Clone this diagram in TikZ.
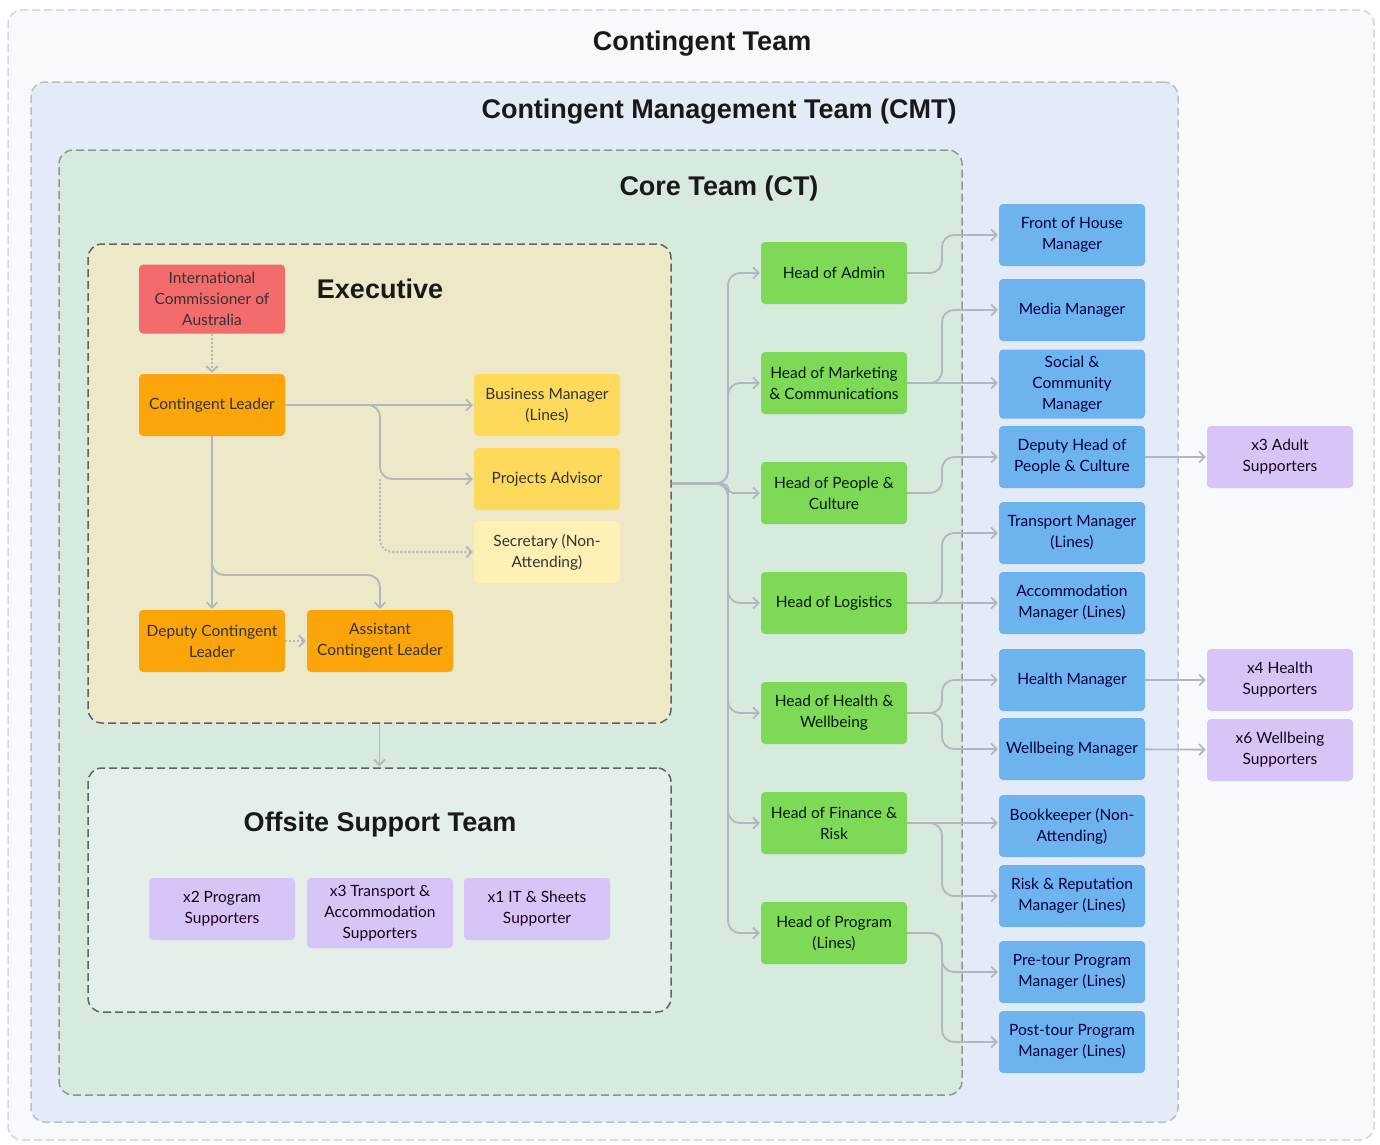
\documentclass[tikz,border=0pt]{standalone}
\usepackage{fontspec}
\setmainfont{Lato}
\newfontfamily\titlefont{Liberation Sans}
\usetikzlibrary{arrows.meta, positioning}

\definecolor{ctfill}{HTML}{F8F9FC}
\definecolor{ctline}{HTML}{D3D6DB}
\definecolor{cmtfill}{HTML}{E3EBF8}
\definecolor{cmtline}{HTML}{B9C0C8}
\definecolor{corefill}{HTML}{D6EADE}
\definecolor{coreline}{HTML}{8E9893}
\definecolor{exefill}{HTML}{EDE8C8}
\definecolor{offfill}{HTML}{E4EFEA}
\definecolor{boxline}{HTML}{5E6562}
\definecolor{linkgray}{HTML}{B0B8BE}
\definecolor{icared}{HTML}{F46B6B}
\definecolor{leadorange}{HTML}{FBA50A}
\definecolor{advyellow}{HTML}{FDDA5C}
\definecolor{secyellow}{HTML}{FDF0B4}
\definecolor{headgreen}{HTML}{7ED957}
\definecolor{mgrblue}{HTML}{6DB3EE}
\definecolor{suppurple}{HTML}{D7C5F8}

\begin{document}
\begin{tikzpicture}[x=1pt,y=-1pt,>={Straight Barb[length=5.5pt,width=11pt]},
  shorten >=1pt,node distance=110pt,
  team box/.style={rounded corners=14pt,dash pattern=on 8pt off 4pt,line width=1.5pt,inner sep=0pt},
  title/.style={font=\titlefont\bfseries\fontsize{27}{32}\selectfont,text=black!90},
  role/.style={rounded corners=4pt,minimum width=146pt,minimum height=62pt,inner sep=2pt,
    align=center,font=\fontsize{15.5}{21}\selectfont},
  exec node/.style={role,fill=leadorange,text=black!80},
  head node/.style={role,fill=headgreen,text=green!10!black},
  mgr node/.style={role,fill=mgrblue,text=blue!25!black},
  sup node/.style={role,fill=suppurple,text=violet!20!black},
  link/.style={->,draw=linkgray,line width=1.8pt,rounded corners=12pt},
  dotlink/.style={link,dash pattern=on 2pt off 2pt}]
  \useasboundingbox (0,0) rectangle (1380,1144);

  % nested teams
  \node[team box,fill=ctfill,draw=ctline,minimum width=1366pt,minimum height=1130pt] (ct) at (691,575) {};
  \node[team box,fill=cmtfill,draw=cmtline,minimum width=1147pt,minimum height=1040pt] (cmt) at (604.5,602) {};
  \node[team box,fill=corefill,draw=coreline,minimum width=903pt,minimum height=945pt] (core) at (510.5,622.5) {};
  \node[team box,fill=exefill,draw=boxline,minimum width=583pt,minimum height=479pt] (exe) at (379.5,483.5) {};
  \node[team box,fill=offfill,draw=boxline,minimum width=583pt,minimum height=244pt] (off) at (379.5,890) {};

  \node[title] (tct) at (702,44) {Contingent Team};
  \node[title] (tcmt) at (719,112) {Contingent Management Team (CMT)};
  \node[title] (tcore) at (719,189) {Core Team (CT)};
  \node[title] (texe) at (380,289) {Executive};
  \node[title] (toff) at (380,825) {Offsite Support Team};

  % executive
  \node[exec node,fill=icared,minimum height=69pt] (ica) at (212,299) {International\\Commissioner of\\Australia};
  \node[exec node] (cl) at (212,405) {Contingent Leader};
  \node[exec node,fill=advyellow] (bm) at (547,405) {Business Manager\\(Lines)};
  \node[exec node,fill=advyellow] (pa) at (547,479) {Projects Advisor};
  \node[exec node,fill=secyellow] (sec) at (547,552) {Secretary (Non-\\Attending)};
  \node[exec node] (dep) at (212,641) {Deputy Contingent\\Leader};
  \node[exec node] (asst) at (380,641) {Assistant\\Contingent Leader};

  % offsite
  \node[sup node] (osp) at (222,909) {x2 Program\\Supporters};
  \node[sup node,minimum height=70pt] (ost) at (380,913) {x3 Transport \&\\Accommodation\\Supporters};
  \node[sup node] (osi) at (537,909) {x1 IT \& Sheets\\Supporter};

  % heads
  \node[head node] (hadm) at (834,273) {Head of Admin};
  \node[head node] (hmkt) [below of=hadm] {Head of Marketing\\\& Communications};
  \node[head node] (hppl) [below of=hmkt] {Head of People \&\\Culture};
  \node[head node] (hlog) [below of=hppl] {Head of Logistics};
  \node[head node] (hhw) [below of=hlog] {Head of Health \&\\Wellbeing};
  \node[head node] (hfin) [below of=hhw] {Head of Finance \&\\Risk};
  \node[head node] (hprg) [below of=hfin] {Head of Program\\(Lines)};

  % managers
  \node[mgr node] (foh) at (1072,235) {Front of House\\Manager};
  \node[mgr node] (med) at (1072,310) {Media Manager};
  \node[mgr node,minimum height=69pt] (soc) at (1072,384) {Social \&\\Community\\Manager};
  \node[mgr node] (dhp) at (1072,457) {Deputy Head of\\People \& Culture};
  \node[mgr node] (trm) at (1072,533) {Transport Manager\\(Lines)};
  \node[mgr node] (acm) at (1072,603) {Accommodation\\Manager (Lines)};
  \node[mgr node] (hem) at (1072,680) {Health Manager};
  \node[mgr node] (wbm) at (1072,749) {Wellbeing Manager};
  \node[mgr node] (bkp) at (1072,826) {Bookkeeper (Non-\\Attending)};
  \node[mgr node] (rrm) at (1072,896) {Risk \& Reputation\\Manager (Lines)};
  \node[mgr node] (prm) at (1072,972) {Pre-tour Program\\Manager (Lines)};
  \node[mgr node] (pom) at (1072,1042) {Post-tour Program\\Manager (Lines)};

  % supporters
  \node[sup node] (sad) at (1280,457) {x3 Adult\\Supporters};
  \node[sup node] (shl) at (1280,680) {x4 Health\\Supporters};
  \node[sup node] (swb) at (1280,750) {x6 Wellbeing\\Supporters};

  \coordinate (trunk) at (728,484);
  \coordinate (bend) at (942,0);
  \coordinate (cdrop) at (212,575);

  % executive links
  \draw[dotlink] (ica) -- (cl);
  \draw[link] (cl.east) -- (bm.west);
  \draw[link] (cl.east) -| (asst.north |- pa.west) -- (pa.west);
  \draw[dotlink] (asst.north |- pa.west) |- (sec.west);
  \draw[link] (cl) -- (dep);
  \draw[link] (cl.south) -- (cdrop) -| (asst.north);
  \draw[dotlink] (dep) -- (asst);
  \draw[link] (exe) -- (off);

  % executive to heads
  \foreach \h in {hadm,hmkt,hlog,hhw,hfin,hprg}
    \draw[link] (exe.east) -| (trunk |- \h.west) -- (\h.west);
  \draw[link,rounded corners=5pt] (exe.east) -- (trunk) |- (hppl.west);

  % heads to managers
  \draw[link] (hadm.east) -- (bend |- hadm.east) |- (foh.west);
  \draw[link] (hmkt.east) -- (bend |- hmkt.east) |- (med.west);
  \draw[link] (hmkt.east) -- (hmkt.east -| soc.west);
  \draw[link] (hppl.east) -- (bend |- hppl.east) |- (dhp.west);
  \draw[link] (hlog.east) -- (bend |- hlog.east) |- (trm.west);
  \draw[link] (hlog.east) -- (hlog.east -| acm.west);
  \draw[link] (hhw.east) -- (bend |- hhw.east) |- (hem.west);
  \draw[link] (hhw.east) -- (bend |- hhw.east) |- (wbm.west);
  \draw[link] (hfin.east) -- (hfin.east -| bkp.west);
  \draw[link] (hfin.east) -- (bend |- hfin.east) |- (rrm.west);
  \draw[link] (hprg.east) -- (bend |- hprg.east) |- (prm.west);
  \draw[link] (hprg.east) -- (bend |- hprg.east) |- (pom.west);

  % managers to supporters
  \draw[link] (dhp) -- (sad);
  \draw[link] (hem) -- (shl);
  \draw[link] (wbm) -- (swb);
\end{tikzpicture}
\end{document}
